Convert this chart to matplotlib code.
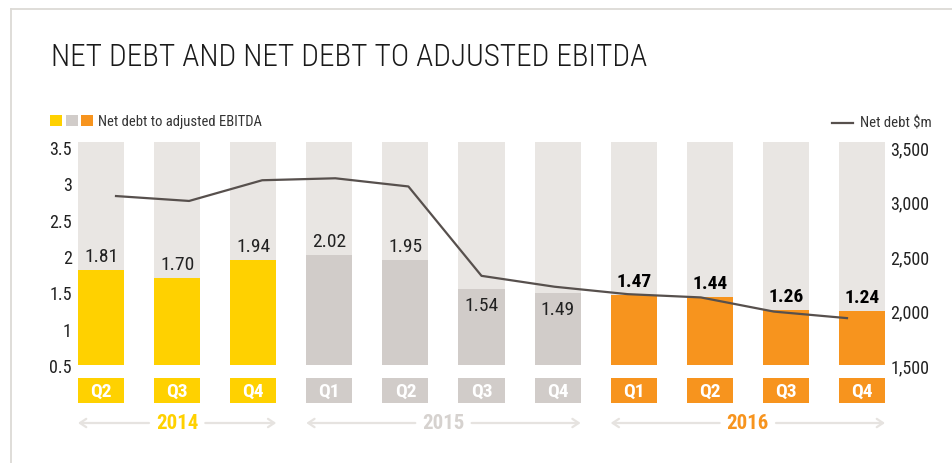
"""Net debt and net debt to adjusted EBITDA, quarterly 2014-2016."""

import matplotlib

matplotlib.use("Agg")
import matplotlib.pyplot as plt
import numpy as np
from matplotlib.patches import Rectangle
from matplotlib.lines import Line2D

# Data
QUARTERS = ["Q2", "Q3", "Q4", "Q1", "Q2", "Q3", "Q4", "Q1", "Q2", "Q3", "Q4"]
YEARS = ["2014", "2014", "2014", "2015", "2015", "2015", "2015",
         "2016", "2016", "2016", "2016"]
RATIO = [1.81, 1.70, 1.94, 2.02, 1.95, 1.54, 1.49, 1.47, 1.44, 1.26, 1.24]
NET_DEBT = [3050, 3005, 3195, 3213, 3138, 2318, 2218, 2150, 2120, 1990, 1930]
LABEL_INSIDE = [False, False, False, False, False, True, True,
                False, False, False, False]

LEFT_TICKS = [0.5, 1, 1.5, 2, 2.5, 3, 3.5]
RIGHT_TICKS = [1500, 2000, 2500, 3000, 3500]

# Style
YEAR_COLORS = {"2014": "#FFD100", "2015": "#D1CCC9", "2016": "#F7941E"}
YEAR_TEXT_COLORS = {"2014": "#FFD100", "2015": "#D6D2CF", "2016": "#F7941E"}
BG_COLOR = "#E9E6E3"
LINE_COLOR = "#57504D"
ARROW_COLOR = "#E6E3E0"
BORDER_COLOR = "#DCDAD6"
TEXT_COLOR = "#222222"

plt.rcParams["font.family"] = ["Roboto Condensed", "Archivo Narrow", "DejaVu Sans"]

W, H = 952, 464
fig = plt.figure(figsize=(W / 100, H / 100), dpi=100)


def fx(px):
    return px / W


def fy(py):
    return 1 - py / H


AX_LEFT, AX_RIGHT, AX_TOP, AX_BOTTOM = 78, 885, 143, 366
Y_BOTTOM = 0.5
Y_TOP = Y_BOTTOM + (AX_BOTTOM - AX_TOP) / ((AX_BOTTOM - 148) / 3.0)
R_TOP = 1500 + (Y_TOP - Y_BOTTOM) * 2000 / 3.0
BAR_W = 0.605

rect = [fx(AX_LEFT), fy(AX_BOTTOM), fx(AX_RIGHT - AX_LEFT), (AX_BOTTOM - AX_TOP) / H]
ax = fig.add_axes(rect)
x = np.arange(len(RATIO))
colors = [YEAR_COLORS[y] for y in YEARS]

ax.bar(x, Y_TOP - Y_BOTTOM, bottom=Y_BOTTOM, width=BAR_W, color=BG_COLOR, zorder=1)
ax.bar(x, np.array(RATIO) - Y_BOTTOM, bottom=Y_BOTTOM, width=BAR_W, color=colors, zorder=2)

for xi, v, yr, inside in zip(x, RATIO, YEARS, LABEL_INSIDE):
    bold = yr == "2016"
    ax.annotate(
        f"{v:.2f}",
        (xi, v),
        xytext=(0, -11.5 if inside else 10),
        textcoords="offset points",
        ha="center",
        va="center",
        fontsize=14,
        fontweight="bold" if bold else "normal",
        color="black" if bold else TEXT_COLOR,
        zorder=4,
    )

ax.set_xlim(-BAR_W / 2, len(RATIO) - 1 + BAR_W / 2)
ax.set_ylim(Y_BOTTOM, Y_TOP)
ax.set_yticks(LEFT_TICKS)
ax.set_yticklabels([f"{t:g}" for t in LEFT_TICKS])
ax.tick_params(axis="y", length=0, pad=4.5, labelsize=13, labelcolor=TEXT_COLOR)
ax.set_xticks([])
for s in ax.spines.values():
    s.set_visible(False)
ax.patch.set_visible(False)

# Net debt line on its own axes (slightly narrower x spread than bars)
ax2 = fig.add_axes(rect, frameon=False)
ax2.plot(x, NET_DEBT, color=LINE_COLOR, lw=1.6, zorder=3)
ax2.set_xlim(-0.52, len(RATIO) - 1 + 0.52)
ax2.set_ylim(1500, R_TOP)
ax2.set_xticks([])
ax2.yaxis.tick_right()
ax2.set_yticks(RIGHT_TICKS)
ax2.set_yticklabels([f"{t:,}" for t in RIGHT_TICKS])
ax2.tick_params(axis="y", length=0, pad=4, labelsize=13, labelcolor=TEXT_COLOR)
ax2.patch.set_visible(False)

# Quarter boxes and year arrows
ax3 = fig.add_axes([fx(AX_LEFT), fy(440), fx(AX_RIGHT - AX_LEFT), (440 - AX_BOTTOM) / H],
                   frameon=False)
ax3.set_xlim(ax.get_xlim())
ax3.set_ylim(74, 0)
ax3.set_xticks([])
ax3.set_yticks([])
ax3.bar(x, 25, bottom=13, width=BAR_W, color=colors)
for xi, q in zip(x, QUARTERS):
    ax3.text(xi, 26, q, ha="center", va="center", color="white",
             fontsize=14, fontweight="bold")

for yr in ["2014", "2015", "2016"]:
    idx = [i for i, y in enumerate(YEARS) if y == yr]
    x0, x1 = idx[0] - BAR_W / 2, idx[-1] + BAR_W / 2
    xc = (idx[0] + idx[-1]) / 2
    ax3.text(xc, 58, yr, ha="center", va="center", color=YEAR_TEXT_COLORS[yr],
             fontsize=15, fontweight="bold")
    for start, end in [(xc - 0.37, x0), (xc + 0.37, x1)]:
        ax3.annotate("", xy=(end, 58), xytext=(start, 58),
                     arrowprops=dict(arrowstyle="->,head_length=0.45,head_width=0.3",
                                     color=ARROW_COLOR, lw=1.6,
                                     shrinkA=0, shrinkB=0))

# Title
fig.text(fx(51), fy(66), "NET DEBT AND NET DEBT TO ADJUSTED EBITDA",
         fontsize=22.4, fontweight=300, color="#1A1A1A", va="baseline", ha="left")

# Legends
for i, yr in enumerate(["2014", "2015", "2016"]):
    fig.add_artist(Rectangle((fx(50 + 15.7 * i), fy(127)), 12 / W, 11 / H,
                             transform=fig.transFigure, color=YEAR_COLORS[yr], lw=0))
fig.text(fx(98), fy(122), "Net debt to adjusted EBITDA", fontsize=10.5,
         color="#333333", va="center", ha="left")
fig.add_artist(Line2D([fx(832), fx(853)], [fy(124), fy(124)],
                      transform=fig.transFigure, color=LINE_COLOR, lw=1.6))
fig.text(fx(860), fy(124), "Net debt $m", fontsize=10.6,
         color="#333333", va="center", ha="left")

# Frame
fig.add_artist(Line2D([fx(11), 1], [fy(10), fy(10)], transform=fig.transFigure,
                      color=BORDER_COLOR, lw=1.3))
fig.add_artist(Line2D([fx(11), fx(11)], [fy(10), 0], transform=fig.transFigure,
                      color=BORDER_COLOR, lw=1.3))

fig.savefig("out.png", dpi=100)
